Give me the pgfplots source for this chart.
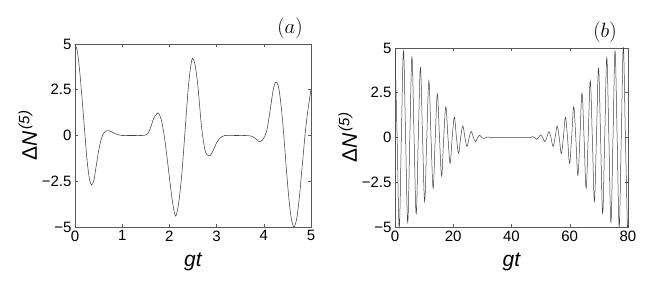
\documentclass[border=0pt]{standalone}
\usepackage{fontspec}
\setmainfont{Liberation Sans}
\usepackage{pgfplots}
\pgfplotsset{compat=1.18}
\pgfplotsset{mystyle/.style={
  scale only axis,
  axis line style={line width=0.6pt, draw=black!65},
  every tick/.style={black!65, line width=0.5pt},
  tick align=inside, major tick length=3pt,
  ymin=-5, ymax=5,
  ytick={-5,-2.5,0,2.5,5}, yticklabels={−5,−2.5,0,2.5,5},
  tick label style={font=\fontsize{15}{15}\selectfont},
  /pgf/number format/assume math mode=true,
  xlabel={\fontsize{21}{21}\selectfont\itshape gt},
  ylabel={\fontsize{21}{21}\selectfont Δ\textit{N}\textsuperscript{\fontsize{15}{15}\selectfont\,\textit{(5)}}},
  xlabel style={yshift=-5pt},
  ylabel style={yshift=-2pt},
  clip=true,
}}
\begin{document}
\begin{tikzpicture}
\path[use as bounding box] (0,0) rectangle (654pt,284pt);
\begin{axis}[mystyle, name=A, at={(75pt,57pt)}, anchor=south west,
  width=236pt, height=183pt, xmin=0, xmax=5, xtick={0,1,2,3,4,5}]
\addplot[black!75, line width=0.55pt, smooth, tension=0.5] coordinates {
(0,5.0)(0.05,4.6)(0.1,3.5)(0.15,2.0)(0.2,0.4)(0.25,-1.2)(0.3,-2.3)(0.35,-2.7)(0.4,-2.45)(0.45,-1.65)(0.5,-0.85)(0.55,-0.25)(0.6,0.1)(0.65,0.24)(0.71,0.27)(0.78,0.2)(0.85,0.1)(0.93,0.03)(1.0,0.0)(1.2,0.0)(1.4,0.0)(1.5,0.03)(1.55,0.12)(1.6,0.42)(1.67,0.95)(1.73,1.18)(1.77,1.22)(1.83,0.85)(1.89,0.0)(1.95,-1.2)(2.01,-2.5)(2.07,-3.7)(2.13,-4.4)(2.19,-3.8)(2.26,-2.2)(2.33,0.2)(2.4,2.6)(2.45,3.75)(2.49,4.22)(2.54,3.9)(2.6,2.8)(2.68,0.5)(2.75,-0.75)(2.8,-1.05)(2.86,-1.1)(2.92,-0.85)(3.0,-0.4)(3.08,-0.12)(3.18,0.0)(3.4,0.0)(3.6,0.0)(3.75,-0.04)(3.83,-0.18)(3.91,-0.34)(3.97,-0.25)(4.02,-0.05)(4.07,0.35)(4.13,1.3)(4.2,2.5)(4.26,2.92)(4.32,2.55)(4.38,1.3)(4.43,-0.2)(4.48,-1.9)(4.53,-3.4)(4.58,-4.5)(4.64,-5.0)(4.7,-4.5)(4.76,-3.2)(4.82,-1.5)(4.88,0.2)(4.94,1.5)(5.0,2.5)
};
\end{axis}
\node[font=\fontsize{20}{20}\selectfont] at (290pt,256pt) {$(a)$};
\begin{axis}[mystyle, name=B, at={(395pt,57pt)}, anchor=south west,
  width=233pt, height=179pt, xmin=0, xmax=80, xtick={0,20,40,60,80}]
\addplot[black!75, line width=0.5pt, smooth, tension=0.6] coordinates {
(0,5.0)(0.7275,0)(1.455,-5.05)(2.18,0)(2.91,4.85)(3.64,0)(4.365,-4.75)(5.09,0)(5.82,4.5)(6.55,0)(7.275,-4.27)(8.0,0)(8.73,3.9)(9.46,0)(10.185,-3.58)(10.91,0)(11.64,3.17)(12.37,0)(13.095,-2.84)(13.82,0)(14.55,2.43)(15.28,0)(16.005,-2.15)(16.73,0)(17.46,1.72)(18.19,0)(18.915,-1.44)(19.64,0)(20.37,1.13)(21.1,0)(21.825,-0.88)(22.55,0)(23.28,0.64)(24.01,0)(24.735,-0.5)(25.46,0)(26.19,0.33)(26.92,0)(27.645,-0.23)(28.37,0)(29.1,0.12)(29.83,0)(30.555,-0.06)(31.28,0)(32.01,0.03)(32.74,0)(36,0)(40,0)(43,0)(46.45,0)(47.16,0.05)(47.87,0)(48.58,-0.1)(49.29,0)(50.0,0.14)(50.71,0)(51.42,-0.23)(52.13,0)(52.84,0.33)(53.55,0)(54.26,-0.5)(54.97,0)(55.68,0.64)(56.39,0)(57.1,-0.9)(57.81,0)(58.52,1.13)(59.23,0)(59.94,-1.44)(60.65,0)(61.36,1.72)(62.07,0)(62.78,-2.1)(63.49,0)(64.2,2.47)(64.91,0)(65.62,-2.84)(66.33,0)(67.04,3.16)(67.75,0)(68.46,-3.55)(69.17,0)(69.88,3.87)(70.59,0)(71.3,-4.24)(72.01,0)(72.72,4.46)(73.43,0)(74.14,-4.74)(74.85,0)(75.56,4.83)(76.27,0)(76.98,-5.0)(77.69,0)(78.4,5.05)(79.11,0)(79.82,-5.05)(80,-4.9)
};
\end{axis}
\node[font=\fontsize{20}{20}\selectfont] at (605pt,252pt) {$(b)$};
\end{tikzpicture}
\end{document}
